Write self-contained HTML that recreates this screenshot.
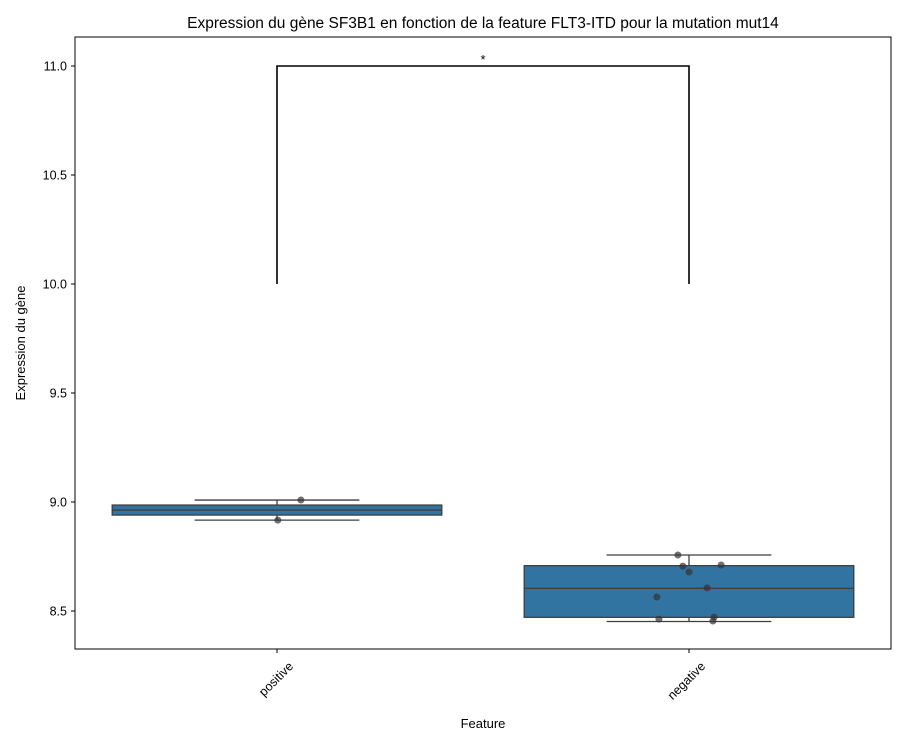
<!DOCTYPE html>
<html><head><meta charset="utf-8"><style>
body{margin:0;background:#fff;}
svg text{font-family:"Liberation Sans","DejaVu Sans",sans-serif;}
</style></head><body>
<svg id="chart" width="906" height="746"></svg>
<script>
const categories=["positive","negative"];
const q1=[8.940,8.471];
const q3=[8.986,8.708];
const medians=[8.963,8.604];
const whiskLow=[8.917,8.452];
const whiskHigh=[9.009,8.757];
const pointCat=[0,0,1,1,1,1,1,1,1,1,1];
const pointVal=[9.009,8.917,8.757,8.706,8.679,8.711,8.606,8.564,8.463,8.472,8.454];
const pointJitter=[0.058,0.002,-0.027,-0.015,0,0.078,0.044,-0.078,-0.073,0.061,0.058];
const yTicks=[8.5,9.0,9.5,10.0,10.5,11.0];
const yTickLabels=["8.5","9.0","9.5","10.0","10.5","11.0"];
const sigLow=10.0, sigHigh=11.0, sigLabel="*";

const NS="http://www.w3.org/2000/svg";
const svg=document.getElementById('chart');
const L=75,R=891,T=37,B=649;
const y=v=>284-(v-10)*218;
const bw=412;
const x=i=>277+bw*i;
function el(t,a,p){const e=document.createElementNS(NS,t);for(const k in a)e.setAttribute(k,a[k]);(p||svg).appendChild(e);return e;}

const title=el('text',{x:483,y:28,'text-anchor':'middle','font-size':15.5,fill:'#000'});
title.textContent="Expression du gène SF3B1 en fonction de la feature FLT3-ITD pour la mutation mut14";



categories.forEach((c,i)=>{
  const cx=x(i),hw=bw*0.4,cw=bw*0.2;
  const g=el('g',{});
  
  
  el('line',{x1:cx,x2:cx,y1:y(q3[i]),y2:y(whiskHigh[i]),stroke:'#3f3f3f','stroke-width':1.3},g);
  el('line',{x1:cx,x2:cx,y1:y(q1[i]),y2:y(whiskLow[i]),stroke:'#3f3f3f','stroke-width':1.3},g);
  el('line',{x1:cx-cw,x2:cx+cw,y1:y(whiskHigh[i]),y2:y(whiskHigh[i]),stroke:'#3f3f3f','stroke-width':1.3},g);
  el('line',{x1:cx-cw,x2:cx+cw,y1:y(whiskLow[i]),y2:y(whiskLow[i]),stroke:'#3f3f3f','stroke-width':1.3},g);
  el('rect',{x:cx-hw,y:y(q3[i]),width:hw*2,height:y(q1[i])-y(q3[i]),fill:'#3274a1',stroke:'#3f3f3f','stroke-width':1.3},g);
  el('line',{x1:cx-hw,x2:cx+hw,y1:y(medians[i]),y2:y(medians[i]),stroke:'#3f3f3f','stroke-width':1.3},g);
});
pointVal.forEach((v,k)=>{
  const p=el('circle',{cx:x(pointCat[k])+pointJitter[k]*bw,cy:y(v),r:3.5,fill:'#333','fill-opacity':0.7});
  
  
});
const br=el('polyline',{points:`${x(0)},${y(sigLow)} ${x(0)},${y(sigHigh)} ${x(1)},${y(sigHigh)} ${x(1)},${y(sigLow)}`,fill:'none',stroke:'#000','stroke-width':1.6});


const st=el('text',{x:(x(0)+x(1))/2,y:y(sigHigh)-2,'text-anchor':'middle','font-size':13});
st.textContent=sigLabel;



const fr=el('rect',{x:L,y:T,width:R-L,height:B-T,fill:'none',stroke:'#000','stroke-width':1});


yTicks.forEach((t,i)=>{
  el('line',{x1:L-4,x2:L,y1:y(t),y2:y(t),stroke:'#000'});
  const tl=el('text',{x:L-8,y:y(t)+4.5,'text-anchor':'end','font-size':12.5});
  tl.textContent=yTickLabels[i];
  
  
});
categories.forEach((c,i)=>{
  el('line',{x1:x(i),x2:x(i),y1:B,y2:B+4,stroke:'#000'});
  const tx=x(i)+17,ty=B+18;
  const tl=el('text',{x:tx,y:ty,'text-anchor':'end','font-size':12.5,transform:`rotate(-45 ${tx} ${ty})`});
  tl.textContent=c;
  
  
});
const xt=el('text',{x:(L+R)/2,y:728,'text-anchor':'middle','font-size':13});
xt.textContent="Feature";


const yt=el('text',{x:25,y:(T+B)/2,'text-anchor':'middle','font-size':13,transform:`rotate(-90 25 ${(T+B)/2})`});
yt.textContent="Expression du gène";


</script>
</body></html>
